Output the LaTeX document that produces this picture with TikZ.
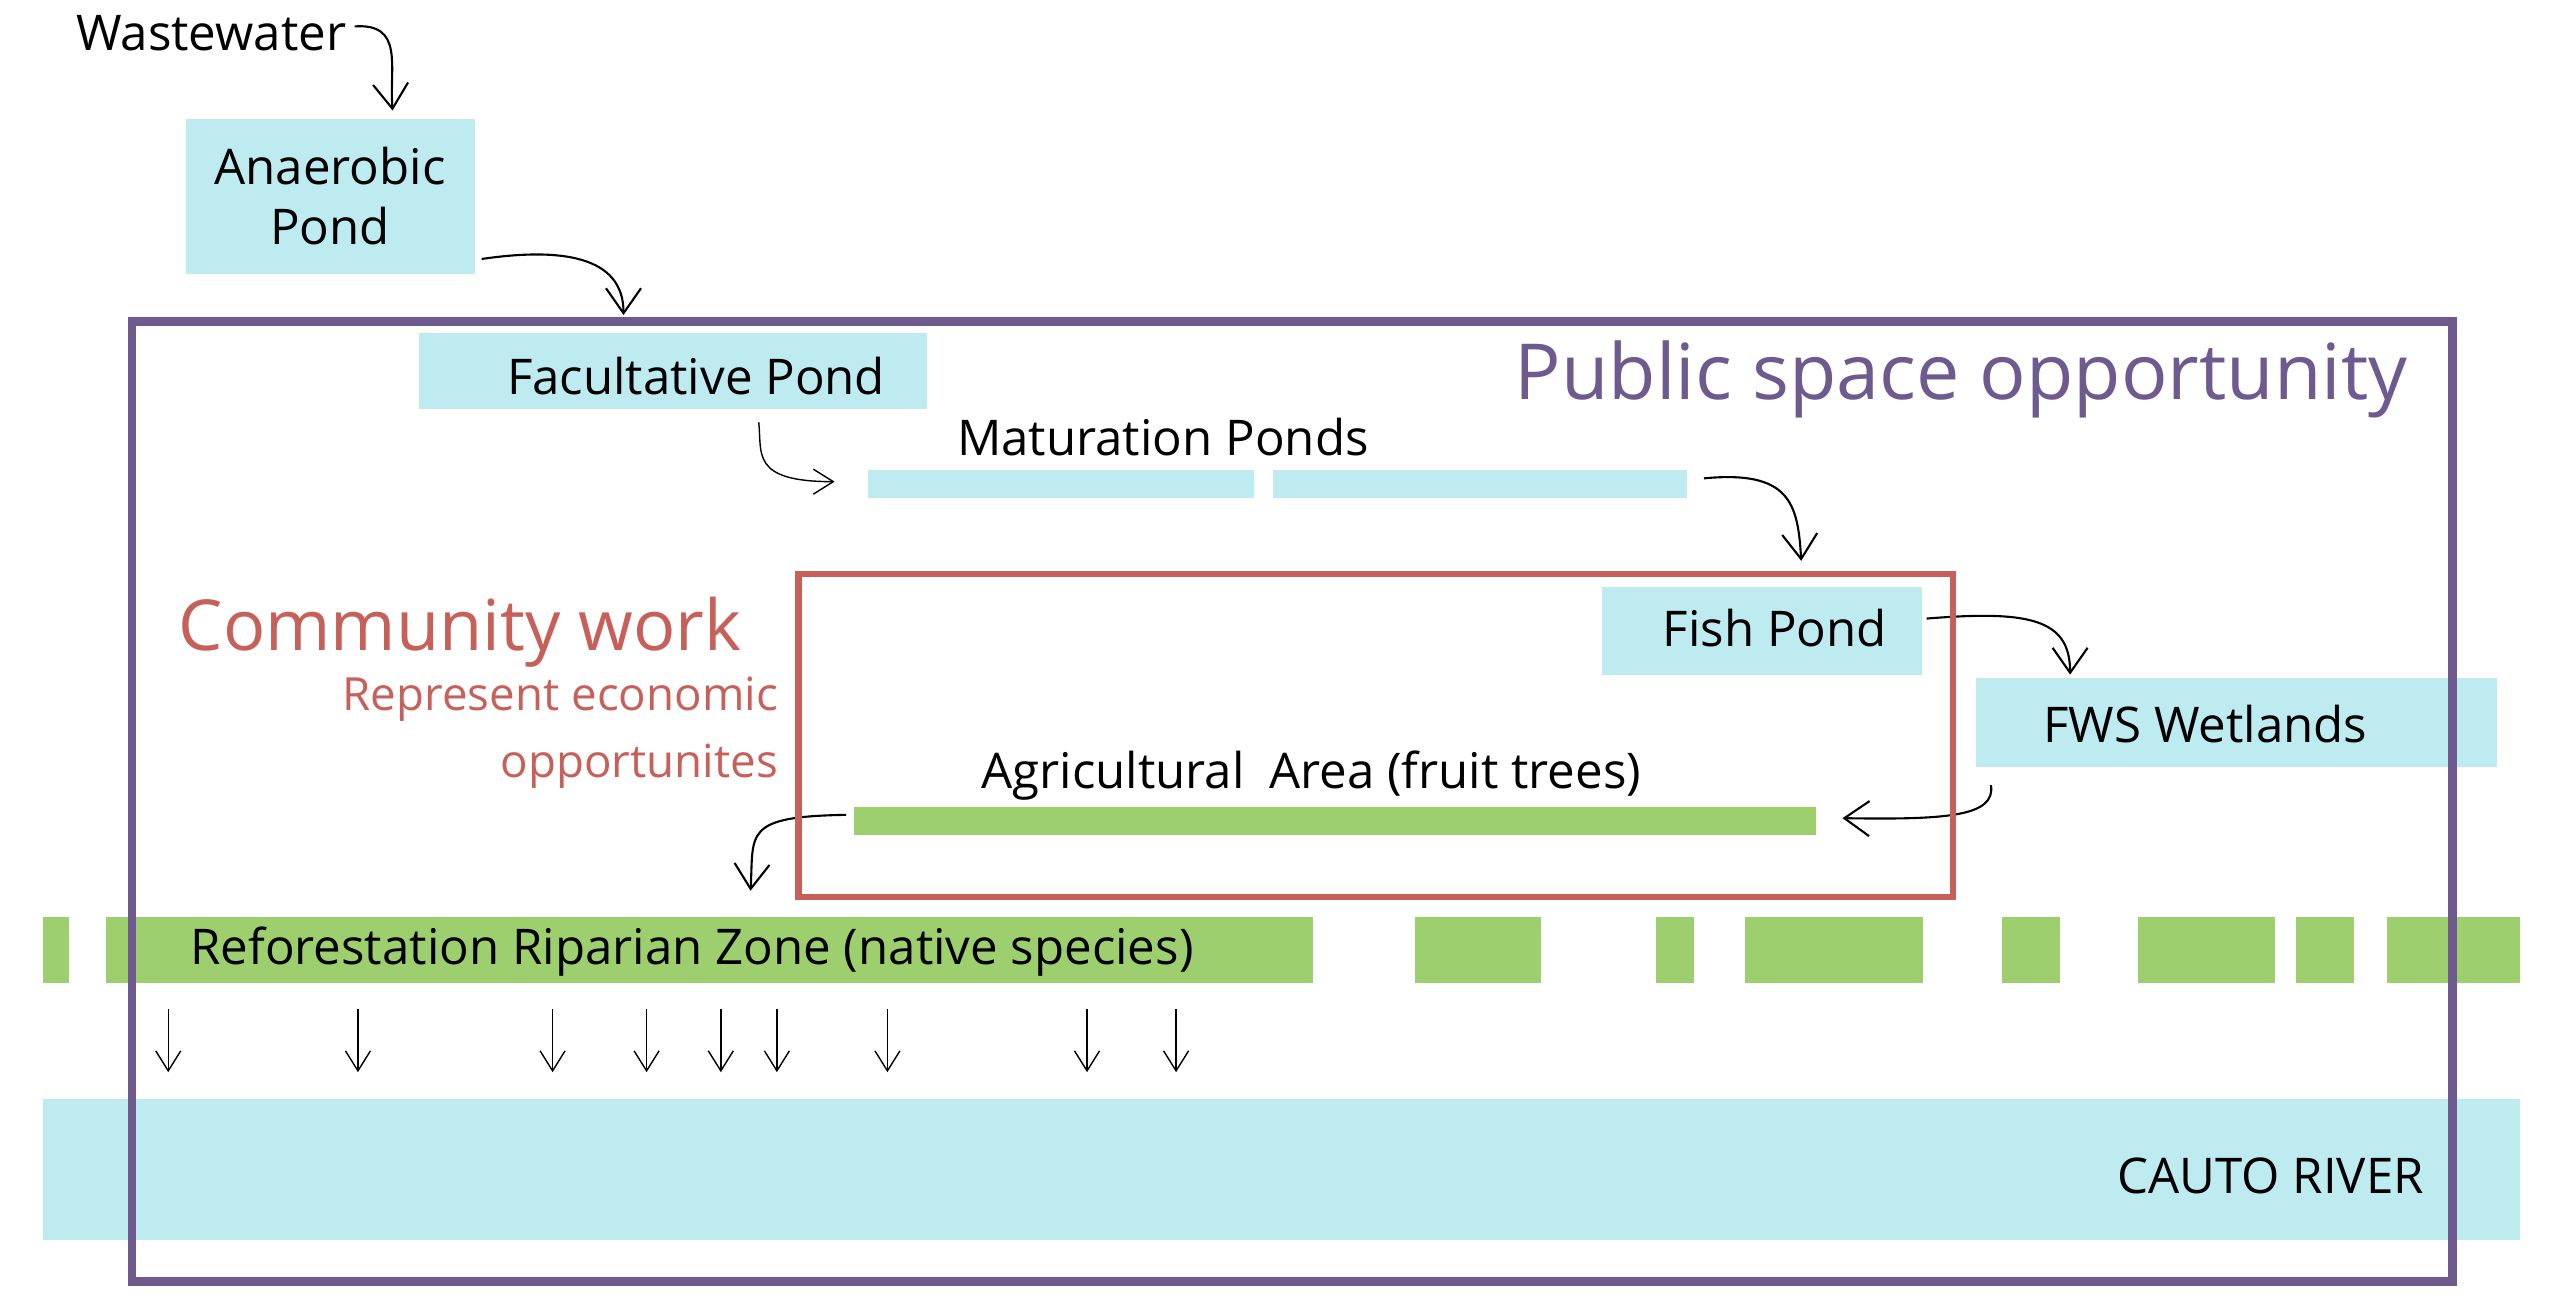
\documentclass[tikz,border=0pt]{standalone}
\usepackage{fontspec}
\setmainfont{Open Sans}
\usetikzlibrary{arrows.meta}
\definecolor{pond}{HTML}{BDEBF0}
\definecolor{veg}{HTML}{9ECF6E}
\definecolor{pub}{HTML}{6E5A8E}
\definecolor{com}{HTML}{C8605A}
\tikzset{
 box/.style={fill=pond, inner sep=0pt},
 lab/.style={font=\fontsize{14}{17}\selectfont, inner sep=0pt},
 flow/.style={semithick, -{Straight Barb[length=2.5mm,width=3.5mm]}},
 seep/.style={thin, -{Straight Barb[length=2mm,width=2.5mm]}},
}
\begin{document}
\begin{tikzpicture}[x=0.0165cm,y=-0.0165cm]
\useasboundingbox (0,0) rectangle (1552,792);
% ponds
\fill[pond] (113,72) rectangle (288,166);
\node (anaer) at (200,119) [lab,align=center] {Anaerobic\\Pond};
\fill[pond] (254,202) rectangle (562,248);
\node (facul) at (422,228) [lab] {Facultative Pond};
\fill[pond] (526,285) rectangle (760,302);
\fill[pond] (772,285) rectangle (1023,302);
\node (matur) at (705,265) [lab] {Maturation Ponds};
\fill[pond] (971,356) rectangle (1165,409);
\node (fish) at (1076,381) [lab] {Fish Pond};
\fill[pond] (1198,411) rectangle (1514,465);
\node (fws) at (1337,439) [lab] {FWS Wetlands};
\node (waste) at (128,20) [lab] {Wastewater};
% vegetation
\fill[veg] (518,489) rectangle (1101,506);
\node (agri) at (795,470) [lab] {Agricultural\enspace Area (fruit trees)};
\foreach \a/\b in {26/42,64/796,858/934,1004/1027,1058/1166,1214/1249,1296/1379,1392/1427,1447/1528}
  \fill[veg] (\a,556) rectangle (\b,596);
\node (refor) at (115,577) [lab,anchor=west] {Reforestation Riparian Zone (native species)};
% river
\fill[pond] (26,666) rectangle (1528,752);
\node (river) at (1470,713) [lab,anchor=east] {CAUTO RIVER};
% labels
\node (public) at (1460,230) [anchor=east,inner sep=0pt,text=pub,font=\fontsize{22}{26}\selectfont] {Public space opportunity};
\node (community) at (450,383) [anchor=east,inner sep=0pt,text=com,font=\fontsize{20}{24}\selectfont] {Community work};
\node (econ) at (472,444) [anchor=east,inner sep=0pt,text=com,align=right,font=\fontsize{13}{19}\selectfont] {Represent economic\\opportunites};
% flows
\coordinate (w1) at (215,16); \coordinate (w2) at (238,67);
\draw[flow] (w1) .. controls (245,14) and (236,40) .. (w2);
\coordinate (a1) at (292,157); \coordinate (a2) at (378,191);
\draw[flow] (a1) .. controls (340,150) and (378,155) .. (a2);
\coordinate (f1) at (460,256); \coordinate (f2) at (506,292);
\draw[seep] (f1) .. controls (462,275) and (455,292) .. (f2);
\coordinate (m1) at (1033,290); \coordinate (m2) at (1092,340);
\draw[flow] (m1) .. controls (1085,285) and (1090,305) .. (m2);
\coordinate (p1) at (1168,375); \coordinate (p2) at (1255,409);
\draw[flow] (p1) .. controls (1230,370) and (1255,375) .. (p2);
\coordinate (e1) at (1207,476); \coordinate (e2) at (1117,496);
\draw[flow] (e1) .. controls (1210,495) and (1180,497) .. (e2);
\coordinate (g1) at (513,494); \coordinate (g2) at (455,540);
\draw[flow] (g1) .. controls (450,495) and (457,505) .. (g2);
\foreach \x in {102,217,335,392,437,471,538,659,713}
  \draw[seep] (\x,612) -- (\x,650);
% frames
\draw[pub,line width=2.5pt] (80,195) rectangle (1487,777);
\draw[com,line width=1.8pt] (484,348) rectangle (1184,544);
\end{tikzpicture}
\end{document}
